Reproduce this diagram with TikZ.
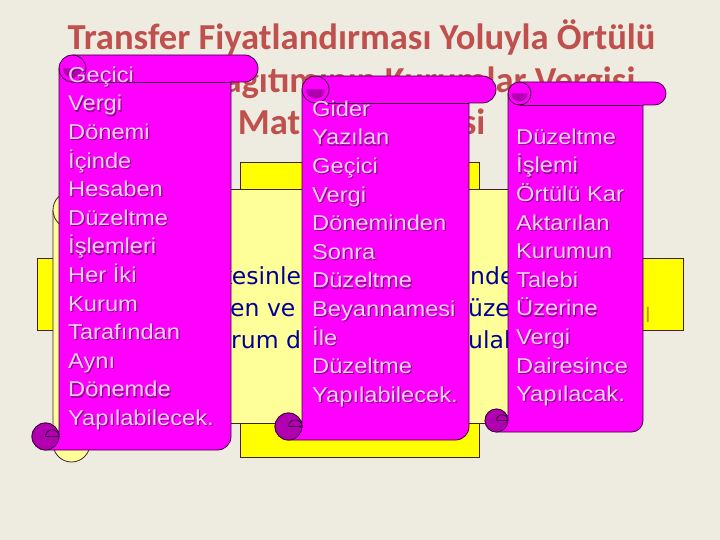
\documentclass[tikz,border=0pt]{standalone}
\usepackage{fontspec}
\setmainfont{DejaVu Sans}
\newfontfamily\titlefont{Carlito}
\newfontfamily\scrollfont[FakeStretch=1.1]{Liberation Sans}
\newfontfamily\bluefont{DejaVu Sans}
\definecolor{bgc}{HTML}{EEECE1}
\definecolor{titlec}{HTML}{C0504D}
\definecolor{mag}{HTML}{FF00FF}
\definecolor{magdark}{HTML}{B000B0}
\definecolor{magline}{HTML}{3A003A}
\definecolor{txtpink}{HTML}{FAD2FA}
\definecolor{txtshadow}{HTML}{8C008C}
\definecolor{yel}{HTML}{FFFF00}
\definecolor{paleyel}{HTML}{FFFF99}
\definecolor{yline}{HTML}{3F1F2F}
\definecolor{navy}{HTML}{000099}
\definecolor{goldtxt}{HTML}{C09020}
\tikzset{
  scrollline/.style={draw=magline, line width=0.8pt, line join=round},
  yelbox/.style={draw=yline, line width=0.8pt},
  titletxt/.style={anchor=base, inner sep=0pt, text=titlec, font=\titlefont\bfseries\fontsize{36.6}{42}\selectfont},
  bluetxt/.style={anchor=base west, inner sep=0pt, text=navy, font=\bluefont\fontsize{23.5}{32}\selectfont},
  scrolltxt/.style={anchor=north west, inner sep=0pt, align=left, text=txtpink, font=\scrollfont\fontsize{21.5}{28.6}\selectfont},
  scrollshadow/.style={scrolltxt, text=txtshadow},
}
% vertical scroll: left, top, right, bottom, roll size
\newcommand\vscroll[5]{%
  \pgfmathsetmacro\sL{#1}\pgfmathsetmacro\sT{#2}\pgfmathsetmacro\sR{#3}%
  \pgfmathsetmacro\sB{#4}\pgfmathsetmacro\sC{#5}%
  \pgfmathsetmacro\sH{\sC/2}\pgfmathsetmacro\sQ{\sC/4}%
  \draw[scrollline, fill=mag] (\sL+\sC,\sB-\sH) -- (\sL+\sC,\sT+\sH)
    arc[start angle=180, end angle=270, radius=\sH] -- (\sR-\sH,\sT)
    arc[start angle=270, end angle=450, radius=\sH] -- (\sR-\sC,\sT+\sC)
    -- (\sR-\sC,\sB-\sH) arc[start angle=0, end angle=90, radius=\sH]
    -- (\sL+\sH,\sB) arc[start angle=90, end angle=360, radius=\sH] -- cycle;
  \draw[scrollline] (\sL+\sC+\sH,\sT+\sC) -- (\sR-\sC,\sT+\sC);
  % top-left curl
  \fill[magdark] (\sL+\sC+0.15*\sC,\sT+\sH) arc[start angle=180, end angle=0, radius=0.35*\sC] -- cycle;
  \draw[scrollline] (\sL+\sC+\sH,\sT) arc[start angle=270, end angle=450, radius=\sH]
    arc[start angle=90, end angle=180, radius=\sH];
  % bottom curl
  \draw[scrollline, fill=magdark] (\sL+\sH,\sB-\sH) circle[radius=\sH];
  \draw[scrollline] (\sL+\sH,\sB-\sH) arc[start angle=180, end angle=360, radius=\sQ] -- (\sL+\sC,\sB-\sH);
  \draw[scrollline] (\sL+\sH,\sB-\sH) -- (\sL+\sC,\sB-\sH);
}
\begin{document}
\begin{tikzpicture}[x=1pt,y=-1pt]
\useasboundingbox (0,0) rectangle (720,540);
\fill[bgc] (0,0) rectangle (720,540);
% title
\node[titletxt] (t1) at (361.5,50) {Transfer Fiyatlandırması Yoluyla Örtülü};
\node[titletxt] (t2) at (361.5,92.5) {Kazanç Dağıtımının Kurumlar Vergisi};
\node[titletxt] (t3) at (361.5,135) {Matrahına Etkisi};
% background yellow shapes
\draw[yelbox, fill=yel] (240,162) rectangle (479,457);
\draw[yelbox, fill=yel] (37,258) rectangle (683,330);
\node[anchor=base west, inner sep=0pt, text=goldtxt, font=\bluefont\fontsize{20}{24}\selectfont] (gl) at (645,322) {l};
% pale yellow scroll
\draw[yelbox, fill=paleyel] (71.5,189) rectangle (620,423);
\draw[yelbox, fill=paleyel] (53,210) -- (53,443.5) arc[start angle=180, end angle=0, radius=18.5] -- (90,210);
\draw[yelbox, fill=paleyel] (71.5,210) circle[radius=18.5];
\node[bluetxt] (b1) at (219,284) {kesinle};
\node[bluetxt] (b2) at (230,316) {en ve};
\node[bluetxt] (b3) at (231,348) {rum dü};
\node[bluetxt] (b4) at (470,284) {nde};
\node[bluetxt] (b5) at (468,316) {üze};
\node[bluetxt] (b6) at (468,348) {ulab};
% magenta scrolls
\vscroll{32}{55}{258}{450}{27}
\vscroll{275}{76}{496}{440}{27}
\vscroll{485}{82}{666}{432}{23}
% scroll texts
\node[scrollshadow] (ltxs) at (69.2,63.2) {\rule{0pt}{20pt}Geçici\\Vergi\\Dönemi\\İçinde\\Hesaben\\Düzeltme\\İşlemleri\\Her İki\\Kurum\\Tarafından\\Aynı\\Dönemde\\Yapılabilecek.};
\node[scrolltxt] (ltx) at (68,62) {\rule{0pt}{20pt}Geçici\\Vergi\\Dönemi\\İçinde\\Hesaben\\Düzeltme\\İşlemleri\\Her İki\\Kurum\\Tarafından\\Aynı\\Dönemde\\Yapılabilecek.};
\node[scrollshadow] (ctxs) at (313.2,97.2) {\rule{0pt}{20pt}Gider\\Yazılan\\Geçici\\Vergi\\Döneminden\\Sonra\\Düzeltme\\Beyannamesi\\İle\\Düzeltme\\Yapılabilecek.};
\node[scrolltxt] (ctx) at (312,96) {\rule{0pt}{20pt}Gider\\Yazılan\\Geçici\\Vergi\\Döneminden\\Sonra\\Düzeltme\\Beyannamesi\\İle\\Düzeltme\\Yapılabilecek.};
\node[scrollshadow] (rtxs) at (517.2,125.2) {\rule{0pt}{20pt}Düzeltme\\İşlemi\\Örtülü Kar\\Aktarılan\\Kurumun\\Talebi\\Üzerine\\Vergi\\Dairesince\\Yapılacak.};
\node[scrolltxt] (rtx) at (516,124) {\rule{0pt}{20pt}Düzeltme\\İşlemi\\Örtülü Kar\\Aktarılan\\Kurumun\\Talebi\\Üzerine\\Vergi\\Dairesince\\Yapılacak.};
\end{tikzpicture}
\end{document}
